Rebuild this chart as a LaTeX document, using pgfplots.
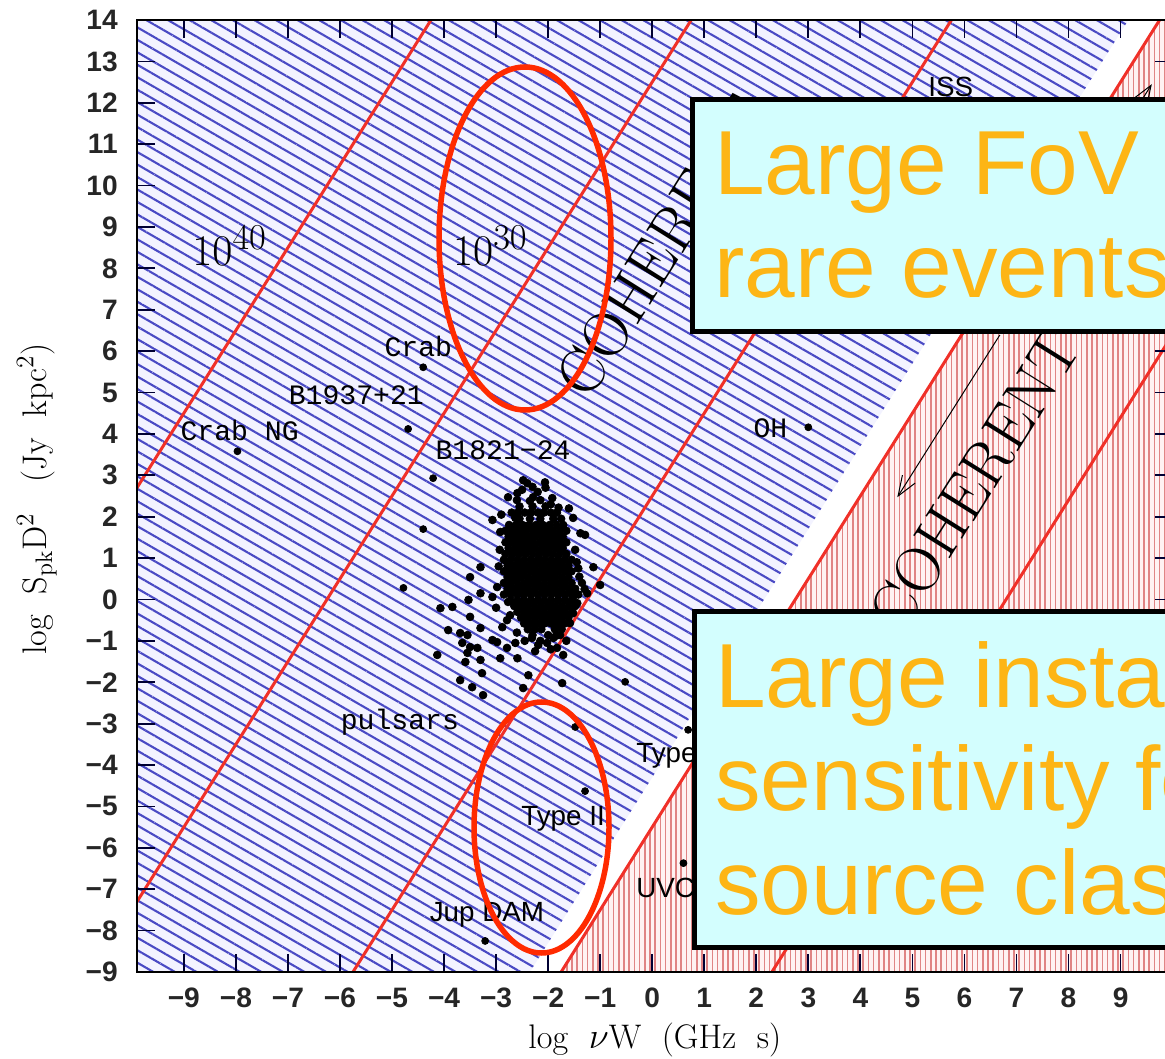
\documentclass[border=0pt]{standalone}
\usepackage{fontspec}
\usepackage{pgfplots}
\pgfplotsset{compat=1.18}
\usetikzlibrary{patterns.meta,arrows.meta}
\newfontfamily\sansf{Liberation Sans}
\newfontfamily\monof{Liberation Mono}
\definecolor{hatchblue}{HTML}{4A4AC4}
\definecolor{bluebg}{HTML}{F3F3FF}
\definecolor{hatchred}{HTML}{E08484}
\definecolor{redbg}{HTML}{FFF2F2}
\definecolor{tbred}{HTML}{F03028}
\definecolor{ellred}{HTML}{FF2A00}
\definecolor{boxcyan}{HTML}{D3FEFE}
\definecolor{boxorange}{HTML}{FDB515}
\newcommand\tickf{\sansf\bfseries\fontsize{16}{16}\selectfont}
\newcommand\labf{\fontsize{19.4}{22}\selectfont}
\newcommand\monolab{\monof\fontsize{16}{16}\selectfont}
\newcommand\sanslab{\sansf\fontsize{15.8}{15.8}\selectfont}
\newcommand\bigword{\fontsize{36}{36}\selectfont}
\newcommand\boxf{\sansf\fontsize{51.8}{60}\selectfont}
\begin{document}
\begin{tikzpicture}
\begin{axis}[
  at={(0,0)}, anchor=south west,
  scale only axis, width=207.12mm, height=190.4mm,
  xmin=-9.9, xmax=10, ymin=-9, ymax=14,
  axis on top=true,
  axis line style={line width=0.4mm, black},
  tick style={line width=0.35mm, color=black!80!blue},
  major tick length=3.6mm,
  tick align=inside,
  xtick={-9,-8,-7,-6,-5,-4,-3,-2,-1,0,1,2,3,4,5,6,7,8,9},
  xticklabels={−9,−8,−7,−6,−5,−4,−3,−2,−1,0,1,2,3,4,5,6,7,8,9},
  ytick={-9,-8,-7,-6,-5,-4,-3,-2,-1,0,1,2,3,4,5,6,7,8,9,10,11,12,13,14},
  yticklabels={−9,−8,−7,−6,−5,−4,−3,−2,−1,0,1,2,3,4,5,6,7,8,9,10,11,12,13,14},
  tick label style={font=\tickf, text=black!85},
  yticklabel style={anchor=east, inner sep=0pt, xshift=-3.8mm},
  xticklabel style={anchor=north, inner sep=0pt, yshift=-3.2mm},
  xlabel={log\ \ $\nu$W\ \ (GHz\ \ s)},
  ylabel={log\ \ S$_{\rm pk}$D$^2$\ \ \ (Jy\ \ kpc$^2$)},
  label style={font=\labf},
  xlabel style={at={(axis description cs:0.5,-0.071)}, anchor=center},
  ylabel style={at={(axis description cs:-0.0966,0.497)}, anchor=center},
]
% coherent (blue hatched) region
\addplot[draw=none, fill=bluebg,
  postaction={pattern={Lines[angle=-30,distance=2.16mm,line width=0.42mm]}, pattern color=hatchblue}]
  coordinates {(-9.9,-9) (-9.9,14) (9.15,14) (-2.35,-9)} -- cycle;
% incoherent (red hatched) region
\addplot[draw=none, fill=redbg,
  postaction={pattern={Lines[angle=90,distance=1.04mm,line width=0.3mm]}, pattern color=hatchred}]
  coordinates {(-1.75,-9) (9.75,14) (10.5,14) (10.5,-9)} -- cycle;
% brightness temperature lines (slope 2)
\addplot[tbred, line width=0.6mm] coordinates {(-15.75,-9) (-4.25,14)};
\addplot[tbred, line width=0.6mm] coordinates {(-10.75,-9) (0.75,14)};
\addplot[tbred, line width=0.6mm] coordinates {(-5.75,-9) (5.75,14)};
\addplot[tbred, line width=0.6mm] coordinates {(-1.75,-9) (9.75,14)};
\addplot[tbred, line width=0.6mm] coordinates {(2.3,-9) (13.8,14)};
% individual sources
\addplot[only marks, mark=*, mark size=0.7mm, black] coordinates {
(-7.97,3.58) (-4.40,5.61) (-4.69,4.12) (-4.21,2.93) (-4.40,1.70) (-4.78,0.28)
(3.0,4.16) (-0.52,-1.99) (-1.48,-3.08) (-1.29,-4.63) (0.69,-3.15) (0.60,-6.37) (-3.21,-8.25)};
% pulsars: scattered
\addplot[only marks, mark=*, mark size=0.78mm, black] coordinates {
(-2.48,2.88) (-2.40,2.81) (-2.06,2.83) (-2.77,2.47) (-2.59,2.57) (-2.29,2.47) (-1.92,2.45)
(-3.07,1.92) (-2.63,1.97) (-1.52,1.97) (-2.92,1.63) (-1.38,1.60) (-1.29,1.56) (-1.13,0.78)
(-1.00,0.35) (-1.25,0.15) (-3.30,0.78) (-3.50,0.54) (-3.30,0.15) (-3.53,-0.01) (-3.07,0.06)
(-4.07,-0.21) (-3.84,-0.18) (-3.50,-0.42) (-2.77,-0.06) (-3.92,-0.74) (-3.69,-0.81) (-3.55,-0.86)
(-3.30,-0.69) (-3.07,-0.98) (-2.98,-1.03) (-3.65,-1.05) (-3.50,-1.15) (-3.36,-1.17) (-2.79,-1.17)
(-2.63,-1.05) (-2.88,-0.67) (-3.55,-1.29) (-3.30,-1.46) (-4.13,-1.34) (-3.59,-1.51) (-2.92,-1.42)
(-2.59,-1.42) (-3.69,-1.95) (-3.46,-2.12) (-3.27,-1.78) (-3.25,-2.31) (-2.38,-1.83) (-2.48,-2.14)
(-1.73,-2.02) (-1.83,-1.17) (-1.71,-1.34) (-2.02,-1.05) (-2.31,-0.93) (-2.19,-1.10) (-1.90,-0.93)
(-1.77,-0.86) (-1.58,-0.57) (-1.52,-0.33) (-1.44,-0.09) (-1.52,0.06) (-2.73,-0.38) (-2.79,-0.50)
(-2.60,2.40) (-2.35,2.38) (-2.15,2.40) (-1.95,2.30) (-2.50,2.65) (-2.20,2.60) (-2.30,2.72) (-2.05,2.70)
(-1.45,0.90) (-1.40,0.55) (-1.35,0.40) (-1.42,0.75) (-1.30,0.25) (-1.48,1.20)
(-2.45,-1.00) (-2.15,-1.00) (-1.95,-1.20) (-2.25,-1.25) (-1.65,-1.00) (-2.60,-0.80)
(-2.95,0.80) (-2.98,0.30) (-2.93,1.20) (-3.00,-0.20) (-2.90,2.05) (-1.60,2.20)};
% pulsars: dense core
\addplot[only marks, mark=*, mark size=0.78mm, black] coordinates {
(-2.55,2.25) (-2.30,2.25) (-2.05,2.25) (-1.80,2.22)
(-2.70,2.10) (-2.58,2.10) (-2.45,2.10) (-2.33,2.10) (-2.20,2.10) (-2.08,2.10) (-1.95,2.10) (-1.83,2.10)
(-2.55,1.95) (-2.35,1.95) (-2.15,1.95) (-1.90,1.95) (-1.75,1.95)
(-2.75,1.80) (-2.62,1.80) (-2.49,1.80) (-2.36,1.80) (-2.23,1.80) (-2.10,1.80) (-1.97,1.80) (-1.84,1.80) (-1.71,1.80)
(-2.82,1.66) (-2.69,1.66) (-2.56,1.66) (-2.43,1.66) (-2.30,1.66) (-2.17,1.66) (-2.04,1.66) (-1.91,1.66) (-1.78,1.66) (-1.65,1.66)
(-2.76,1.52) (-2.63,1.52) (-2.50,1.52) (-2.37,1.52) (-2.24,1.52) (-2.11,1.52) (-1.98,1.52) (-1.85,1.52) (-1.72,1.52)
(-2.82,1.38) (-2.69,1.38) (-2.56,1.38) (-2.43,1.38) (-2.30,1.38) (-2.17,1.38) (-2.04,1.38) (-1.91,1.38) (-1.78,1.38) (-1.65,1.38)
(-2.76,1.24) (-2.63,1.24) (-2.50,1.24) (-2.37,1.24) (-2.24,1.24) (-2.11,1.24) (-1.98,1.24) (-1.85,1.24) (-1.72,1.24)
(-2.82,1.10) (-2.69,1.10) (-2.56,1.10) (-2.43,1.10) (-2.30,1.10) (-2.17,1.10) (-2.04,1.10) (-1.91,1.10) (-1.78,1.10) (-1.65,1.10)
(-2.85,0.96) (-2.72,0.96) (-2.59,0.96) (-2.46,0.96) (-2.33,0.96) (-2.20,0.96) (-2.07,0.96) (-1.94,0.96) (-1.81,0.96) (-1.68,0.96) (-1.55,0.96)
(-2.78,0.82) (-2.65,0.82) (-2.52,0.82) (-2.39,0.82) (-2.26,0.82) (-2.13,0.82) (-2.00,0.82) (-1.87,0.82) (-1.74,0.82) (-1.61,0.82)
(-2.85,0.68) (-2.72,0.68) (-2.59,0.68) (-2.46,0.68) (-2.33,0.68) (-2.20,0.68) (-2.07,0.68) (-1.94,0.68) (-1.81,0.68) (-1.68,0.68) (-1.55,0.68)
(-2.78,0.54) (-2.65,0.54) (-2.52,0.54) (-2.39,0.54) (-2.26,0.54) (-2.13,0.54) (-2.00,0.54) (-1.87,0.54) (-1.74,0.54) (-1.61,0.54)
(-2.85,0.40) (-2.72,0.40) (-2.59,0.40) (-2.46,0.40) (-2.33,0.40) (-2.20,0.40) (-2.07,0.40) (-1.94,0.40) (-1.81,0.40) (-1.68,0.40) (-1.55,0.40)
(-2.78,0.26) (-2.65,0.26) (-2.52,0.26) (-2.39,0.26) (-2.26,0.26) (-2.13,0.26) (-2.00,0.26) (-1.87,0.26) (-1.74,0.26) (-1.61,0.26) (-1.48,0.26)
(-2.85,0.12) (-2.72,0.12) (-2.59,0.12) (-2.46,0.12) (-2.33,0.12) (-2.20,0.12) (-2.07,0.12) (-1.94,0.12) (-1.81,0.12) (-1.68,0.12) (-1.55,0.12) (-1.42,0.12)
(-2.72,-0.02) (-2.59,-0.02) (-2.46,-0.02) (-2.33,-0.02) (-2.20,-0.02) (-2.07,-0.02) (-1.94,-0.02) (-1.81,-0.02) (-1.68,-0.02) (-1.55,-0.02)
(-2.65,-0.16) (-2.52,-0.16) (-2.39,-0.16) (-2.26,-0.16) (-2.13,-0.16) (-2.00,-0.16) (-1.87,-0.16) (-1.74,-0.16) (-1.61,-0.16) (-1.48,-0.16)
(-2.59,-0.30) (-2.46,-0.30) (-2.33,-0.30) (-2.20,-0.30) (-2.07,-0.30) (-1.94,-0.30) (-1.81,-0.30) (-1.68,-0.30) (-1.55,-0.30)
(-2.52,-0.44) (-2.39,-0.44) (-2.26,-0.44) (-2.13,-0.44) (-2.00,-0.44) (-1.87,-0.44) (-1.74,-0.44) (-1.61,-0.44)
(-2.46,-0.58) (-2.33,-0.58) (-2.20,-0.58) (-2.07,-0.58) (-1.94,-0.58) (-1.81,-0.58) (-1.68,-0.58)
(-2.39,-0.72) (-2.26,-0.72) (-2.13,-0.72) (-1.87,-0.72) (-1.74,-0.72)
(-2.30,-0.86) (-2.00,-0.86) (-1.85,-0.88)};
% labels
\node[anchor=base west, inner sep=0pt, font=\monolab] at (axis cs:-9.07,3.85) {Crab NG};
\node[anchor=base west, inner sep=0pt, font=\monolab] at (axis cs:-5.15,5.86) {Crab};
\node[anchor=base west, inner sep=0pt, font=\monolab] at (axis cs:-6.99,4.70) {B1937+21};
\node[anchor=base west, inner sep=0pt, font=\monolab] at (axis cs:-4.17,3.39) {B1821−24};
\node[anchor=base west, inner sep=0pt, font=\monolab] at (axis cs:-5.99,-3.13) {pulsars};
\node[anchor=base west, inner sep=0pt, font=\monolab] at (axis cs:1.94,3.92) {OH};
\node[anchor=base west, inner sep=0pt, font=\sanslab] at (axis cs:5.30,12.14) {ISS};
\node[anchor=base west, inner sep=0pt, font=\sanslab] at (axis cs:-2.52,-5.45) {Type II};
\node[anchor=base west, inner sep=0pt, font=\sanslab] at (axis cs:-0.31,-3.95) {Type III};
\node[anchor=base west, inner sep=0pt, font=\sanslab] at (axis cs:-0.31,-7.19) {UVCet};
\node[anchor=base west, inner sep=0pt, font=\sanslab] at (axis cs:-4.28,-7.79) {Jup DAM};
\node[anchor=base, inner sep=0pt, font=\fontsize{30}{30}\selectfont] at (axis cs:-8.12,8.08) {$10^{40}$};
\node[anchor=base, inner sep=0pt, font=\fontsize{30}{30}\selectfont] at (axis cs:-3.11,8.08) {$10^{30}$};
\node[rotate=57.84, inner sep=0pt, font=\bigword] at (axis cs:0.19,8.54) {COHERENT};
\node[rotate=57.84, inner sep=0pt, font=\bigword] at (axis cs:5.86,2.21) {INCOHERENT};
\draw[line width=0.2mm, -{Straight Barb[length=4mm,width=3mm]}] (axis cs:6.68,6.39) -- (axis cs:4.71,2.47);
\draw[line width=0.2mm, -{Straight Barb[length=4mm,width=3mm]}] (axis cs:8.6,10.45) -- (axis cs:9.6,12.45);
\end{axis}
\begin{scope}
\clip (-27.4mm,-17.2mm) rectangle (205.6mm,194.4mm);
\draw[ellred, line width=1.1mm] (77.6mm,146.7mm) ellipse [x radius=17.2mm, y radius=34.3mm];
\draw[ellred, line width=1.1mm] (80.9mm,28.9mm) ellipse [x radius=13.5mm, y radius=25.1mm];
\draw[fill=boxcyan, draw=black, line width=1mm] (111mm,128mm) rectangle (215mm,174.4mm);
\node[anchor=base west, inner sep=0pt, text=boxorange, font=\boxf] at (115.4mm,155.4mm) {Large FoV for};
\node[anchor=base west, inner sep=0pt, text=boxorange, font=\boxf] at (115.4mm,134.8mm) {rare events};
\draw[fill=boxcyan, draw=black, line width=1mm] (111.4mm,5mm) rectangle (215mm,72mm);
\node[anchor=base west, inner sep=0pt, text=boxorange, font=\boxf] at (115.6mm,52.8mm) {Large instantaneous};
\node[anchor=base west, inner sep=0pt, text=boxorange, font=\boxf] at (115.6mm,32.2mm) {sensitivity for new};
\node[anchor=base west, inner sep=0pt, text=boxorange, font=\boxf] at (115.6mm,11.6mm) {source classes};
\end{scope}
\pgfresetboundingbox
\useasboundingbox (-27.4mm,-17.2mm) rectangle (205.6mm,194.4mm);
\end{tikzpicture}
\end{document}
